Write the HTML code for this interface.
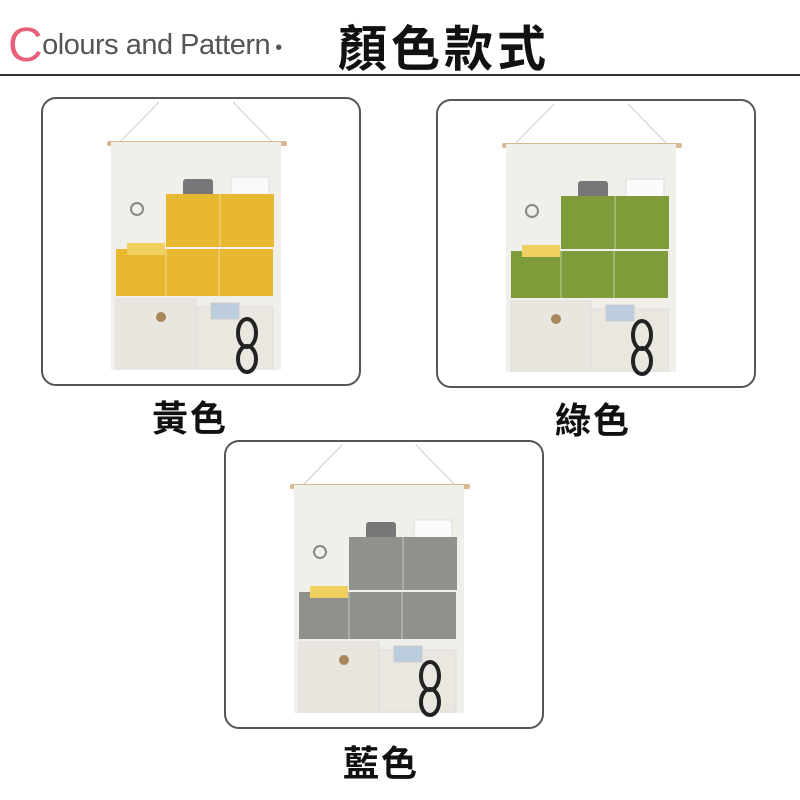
<!DOCTYPE html>
<html><head><meta charset="utf-8"><style>
body{margin:0;width:800px;height:800px;background:#fff;overflow:hidden;position:relative;font-family:"Liberation Sans","Noto Sans CJK TC",sans-serif}
.t{position:absolute;white-space:nowrap}
</style></head><body>
<div class="t" style="left:8px;top:18px;font-size:29px;color:#555;letter-spacing:-0.5px"><span style="color:#e8617a;font-size:48px;vertical-align:-7px">C</span>olours and Pattern<span style="font-size:20px"> •</span></div>
<div class="t" style="left:338px;top:10px;font-size:49px;font-weight:bold;color:#111;font-family:'Noto Sans CJK TC',sans-serif;letter-spacing:4px">顏色款式</div>
<div style="position:absolute;left:0;top:74px;width:800px;height:2px;background:#333"></div>
<svg width="800" height="800" style="position:absolute;left:0;top:0">
<defs>
<g id="h">
<rect x="1" y="1" width="318" height="287" rx="14" fill="#fff" stroke="#555" stroke-width="2"/>
<path d="M78 46 L118 5 M232 46 L192 5" stroke="#ccc" stroke-width="1"/>
<rect x="66" y="44" width="180" height="5" rx="2" fill="#d9b88e"/>
<rect x="70" y="45" width="170" height="228" fill="#f1efea"/>
<rect x="142" y="82" width="30" height="25" rx="3" fill="#777"/>
<rect x="190" y="80" width="38" height="20" fill="#fafafa" stroke="#ddd"/>
<circle cx="96" cy="112" r="6" fill="none" stroke="#888" stroke-width="2"/>
<rect x="125" y="97" width="108" height="53" fill="currentColor"/>
<rect x="75" y="152" width="157" height="47" fill="currentColor"/>
<path d="M179 97v53 M125 152v47 M178 152v47" stroke="#fff" stroke-opacity=".5"/>
<rect x="86" y="146" width="38" height="12" fill="#f0d060"/>
<rect x="75" y="202" width="80" height="70" fill="#e9e6df" stroke="#ddd"/>
<rect x="155" y="210" width="77" height="62" fill="#eae7e0" stroke="#ddd"/>
<circle cx="120" cy="220" r="5" fill="#a8875a"/>
<rect x="170" y="206" width="28" height="16" fill="#bcd" stroke="#ccc"/>
<ellipse cx="206" cy="236" rx="9" ry="14" fill="none" stroke="#222" stroke-width="4"/>
<ellipse cx="206" cy="262" rx="9" ry="13" fill="none" stroke="#222" stroke-width="4"/>
</g>
</defs>
<use href="#h" x="41" y="97" style="color:#e8b830"/>
<use href="#h" x="436" y="99" style="color:#7f9c3a"/>
<use href="#h" x="224" y="440" style="color:#8e918c"/>
</svg>
<div class="t" style="left:152px;top:390px;font-size:36px;font-weight:bold;font-family:'Noto Sans CJK TC',sans-serif;color:#111;letter-spacing:2px">黃色</div>
<div class="t" style="left:555px;top:392px;font-size:36px;font-weight:bold;font-family:'Noto Sans CJK TC',sans-serif;color:#111;letter-spacing:2px">綠色</div>
<div class="t" style="left:343px;top:735px;font-size:36px;font-weight:bold;font-family:'Noto Sans CJK TC',sans-serif;color:#111;letter-spacing:2px">藍色</div>
</body></html>
